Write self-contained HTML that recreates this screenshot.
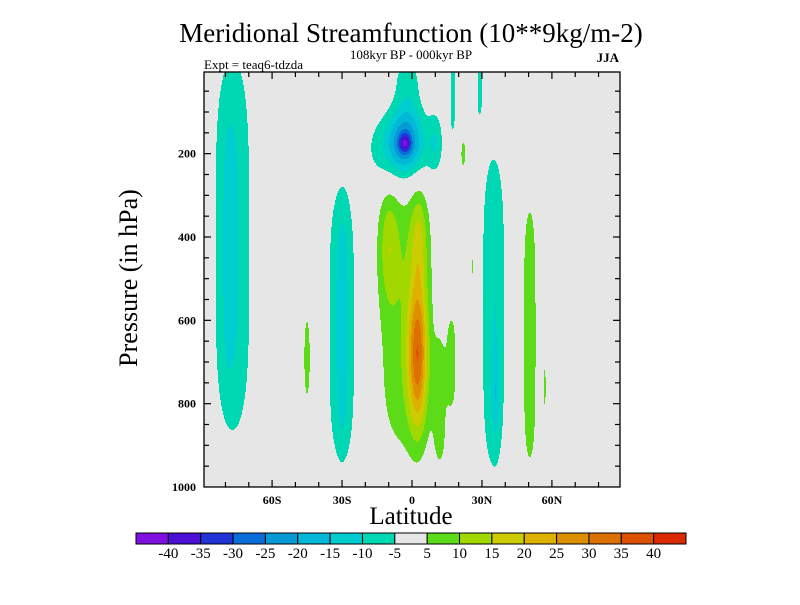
<!DOCTYPE html>
<html><head><meta charset="utf-8"><style>
body{margin:0;background:#fff;}
svg text{font-family:"Liberation Serif",serif;}
</style></head><body>
<svg id="chart" width="800" height="600" xmlns="http://www.w3.org/2000/svg">
<text x="411" y="42" font-size="27" text-anchor="middle">Meridional Streamfunction (10**9kg/m-2)</text>
<text x="411" y="59" font-size="13" text-anchor="middle">108kyr BP - 000kyr BP</text>
<text x="204" y="69" font-size="13">Expt = teaq6-tdzda</text>
<text x="619" y="62" font-size="13" font-weight="bold" text-anchor="end">JJA</text>
<text x="0" y="0" font-size="26" text-anchor="middle" transform="translate(137,278) rotate(-90)">Pressure (in hPa)</text>
<text x="411" y="524" font-size="25" text-anchor="middle">Latitude</text>
<g id="field"></g>
<g id="axes"></g>
<g id="cbar"></g>
</svg>
<script>
// Feature data (lat deg, pressure hPa, amplitude)
const featureLat   = [-77, -79, -30, -30, -3, -3, -5, -2, 10, -3, -10, 2.5, 3, 12, 22, 17, 35, 36, 50.5, 57, 26, -45, 17.5, 29];
const featurePres  = [420, 430, 610, 620, 175, 175, 190, 60, 170, 600, 420, 680, 400, 800, 200, 700, 580, 780, 635, 760, 470, 690, 50, 40];
const featureValue = [-11, -3, -11, -3, -16, -16, -11, -8, -7, 9, 9, 28, 10, 7, 7, 7, -10, -6, 8, 6, 6, 7, -7, -7];
const featureLatSpread  = [8.1, 2, 6, 2, 2.5, 7, 14, 6, 3, 12, 4, 4, 3.5, 3, 1.5, 2.2, 5.4, 1.5, 3.6, 0.6, 0.8, 2, 1.5, 1.5];
const featurePresSpread = [470, 280, 340, 280, 22, 60, 90, 90, 70, 330, 140, 170, 120, 160, 50, 120, 400, 100, 355, 100, 60, 150, 110, 80];
const featurePower      = [4, 4, 4, 4, 2, 2, 2, 4, 2, 4, 2, 2, 2, 4, 2, 4, 4, 2, 4, 2, 2, 2, 4, 4];
const levelLabels = ["-40","-35","-30","-25","-20","-15","-10","-5","5","10","15","20","25","30","35","40"];
const levelColors = ["#8010E0","#4B0FD6","#2233D8","#0A6CD8","#0599D6","#02B7D8","#00CDD0","#00D8B4","#E6E6E6","#5CDC18","#A0D800","#CCCC00","#DEB000","#DC9000","#DC7000","#DC5000","#DC2A00"];
const xTickLabels = ["60S","30S","0","30N","60N"];
const xTickValues = [-60,-30,0,30,60];
const yTickValues = [200,400,600,800,1000];

const X0=204,X1=620,Y0=72,Y1=487;
const LATMIN=-89.2,LATMAX=89.2,PMIN=4,PMAX=1000;
const xs=lat=>X0+(lat-LATMIN)/(LATMAX-LATMIN)*(X1-X0);
const ys=p=>Y0+(p-PMIN)/(PMAX-PMIN)*(Y1-Y0);
const latOf=x=>LATMIN+(x-X0)/(X1-X0)*(LATMAX-LATMIN);
const pOf=y=>PMIN+(y-Y0)/(Y1-Y0)*(PMAX-PMIN);
const NS="http://www.w3.org/2000/svg";
function mk(tag,attrs,parent){const e=document.createElementNS(NS,tag);for(const k in attrs)e.setAttribute(k,attrs[k]);parent.appendChild(e);return e;}
function field(lat,p){let v=0;for(let i=0;i<featureLat.length;i++){const a=(lat-featureLat[i])/featureLatSpread[i];const b=Math.abs(p-featurePres[i])/featurePresSpread[i];v+=featureValue[i]*Math.exp(-a*a-Math.pow(b,featurePower[i]));}return v;}
function bin(v){if(v<-5)return Math.max(0,Math.min(7,Math.floor((v+45)/5)));if(v>=5)return Math.min(16,9+Math.floor((v-5)/5));return 8;}

const fg=document.getElementById('field');
const bg=mk('rect',{x:X0,y:Y0,width:X1-X0,height:Y1-Y0,fill:levelColors[8]},fg);


for(let y=Y0;y<Y1;y++){const p=pOf(y+0.5);let start=X0,cur=bin(field(latOf(X0+0.5),p));
  for(let x=X0+1;x<=X1;x++){const b=x<X1?bin(field(latOf(x+0.5),p)):-1;
    if(b!==cur){if(cur!==8){const r=mk('rect',{x:start,y:y,width:x-start,height:1.05,fill:levelColors[cur]},fg);
        
        }
      start=x;cur=b;}}}

const ax=document.getElementById('axes');
mk('rect',{x:X0,y:Y0,width:X1-X0,height:Y1-Y0,fill:'none',stroke:'#000','stroke-width':1.3},ax);
for(let lat=-80;lat<=80;lat+=10){const x=xs(lat),L=(lat%30===0)?7:5;
  mk('line',{x1:x,x2:x,y1:Y1,y2:Y1-L,stroke:'#000','stroke-width':1.2},ax);
  mk('line',{x1:x,x2:x,y1:Y0,y2:Y0+L,stroke:'#000','stroke-width':1.2},ax);}
xTickValues.forEach((v,i)=>{const t=mk('text',{x:xs(v),y:Y1+17,'font-size':12,'font-weight':'bold','text-anchor':'middle'},ax);t.textContent=xTickLabels[i];
  
  });
for(let p=50;p<1000;p+=50){const y=ys(p),L=(p%200===0)?7:5;
  mk('line',{x1:X0,x2:X0+L,y1:y,y2:y,stroke:'#000','stroke-width':1.2},ax);
  mk('line',{x1:X1,x2:X1-L,y1:y,y2:y,stroke:'#000','stroke-width':1.2},ax);}
yTickValues.forEach(v=>{const t=mk('text',{x:X0-8,y:ys(v)+4,'font-size':12,'font-weight':'bold','text-anchor':'end'},ax);t.textContent=v;
  
  });

const cb=document.getElementById('cbar');
const CX0=136,CX1=686,CY=533,CH=11,bw=(CX1-CX0)/levelColors.length;
levelColors.forEach((c,i)=>{const r=mk('rect',{x:CX0+i*bw,y:CY,width:bw,height:CH,fill:c,stroke:'#000','stroke-width':1},cb);
  
  });
levelLabels.forEach((l,i)=>{const t=mk('text',{x:CX0+(i+1)*bw,y:CY+25,'font-size':15,'text-anchor':'middle'},cb);t.textContent=l;
  
  });
</script>
</body></html>
